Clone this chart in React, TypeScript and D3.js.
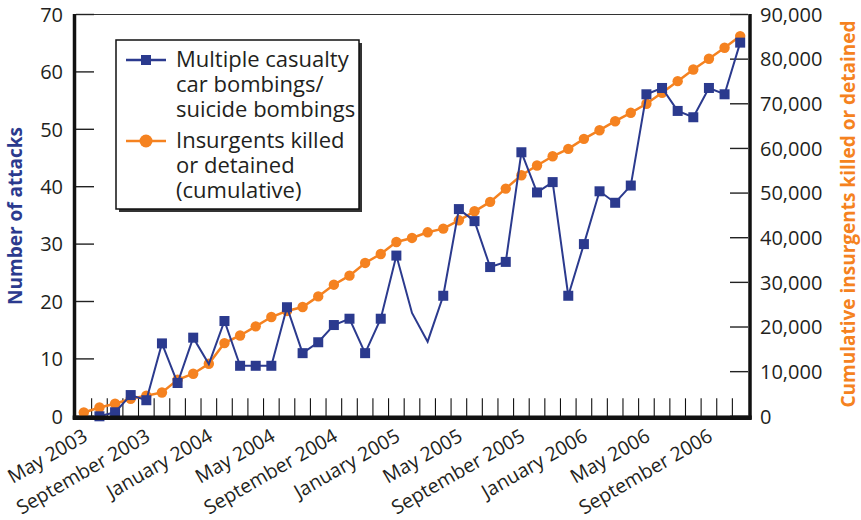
import React from "react";
import * as d3 from "d3";

// Months May 2003 .. Nov 2006 (43 months)
const monthIndex: number[] = d3.range(43);
const xTickLabels: string[] = [
  "May 2003", "September 2003", "January 2004", "May 2004", "September 2004",
  "January 2005", "May 2005", "September 2005", "January 2006", "May 2006", "September 2006",
];
const xTickEvery = 4;

// Multiple casualty car bombings / suicide bombings (left axis)
const attacks: (number | null)[] = [
  null, 0, 0.7, 3.7, 2.8, 12.7, 5.8, 13.7, 9.1, 16.6, 8.8, 8.8, 8.8, 19, 11, 12.9, 15.9, 17,
  11, 17, 28, 18, 13, 21, 36.1, 34, 26, 26.9, 46, 39, 40.8, 21, 30, 39.2, 37.2, 40.2,
  56.1, 57.2, 53.2, 52.1, 57.2, 56.1, 65.1,
];
// Months whose attack value is drawn without a marker in the original
const attacksNoMarker: number[] = [8, 21, 22];

// Insurgents killed or detained (cumulative, right axis)
const insurgents: number[] = [
  850, 1970, 2800, 3920, 4600, 5340, 8180, 9530, 11770, 16400, 18100, 20150, 22240, 23600,
  24480, 26860, 29480, 31500, 34350, 36360, 39050, 39950, 41210, 42040, 43900, 45920, 48030,
  51000, 54000, 56170, 58250, 59900, 62150, 64080, 66100, 67980, 70000, 72470, 75070, 77690,
  80090, 82560, 85160,
];

const leftTicks: number[] = [0, 10, 20, 30, 40, 50, 60, 70];
const rightTicks: number[] = [0, 10000, 20000, 30000, 40000, 50000, 60000, 70000, 80000, 90000];

const legendBlue: string[] = ["Multiple casualty", "car bombings/", "suicide bombings"];
const legendOrange: string[] = ["Insurgents killed", "or detained", "(cumulative)"];

const BLUE = "#2b3a8e";
const ORANGE = "#f58220";
const FONT = "'Open Sans', 'Noto Sans', sans-serif";

export default function App() {
  const W = 861, H = 520;
  const L = 76, R = 748, T = 14.5, B = 416.3;
  const x = d3.scaleBand<number>().domain(monthIndex).range([L, R]).padding(0);
  const cx = (i: number) => (x(i) as number) + x.bandwidth() / 2;
  const yL = d3.scaleLinear().domain([0, 70]).range([B, T]);
  const yR = d3.scaleLinear().domain([0, 90000]).range([B, T]);

  const blueLine = d3.line<number | null>()
    .defined((d) => d !== null)
    .x((_, i) => cx(i))
    .y((d) => yL(d as number));
  const orangeLine = d3.line<number>().x((_, i) => cx(i)).y((d) => yR(d));
  const fmt = d3.format(",");

  return (
    <svg width={W} height={H} style={{ position: "absolute", left: 0, top: 0, background: "#fff" }} fontFamily={FONT}>
      <rect x={0} y={0} width={W} height={H} fill="#fff" />
      {/* top border */}
      <line x1={L} x2={R} y1={T} y2={T} stroke="#333" strokeWidth={1.2} />
      {/* x ticks */}
      {monthIndex.slice(1).map((i) => (
        <line key={"xt" + i} x1={x(i)} x2={x(i)} y1={B - 18} y2={B} stroke="#111" strokeWidth={1.1} />
      ))}
      {/* left ticks */}
      {leftTicks.map((t) => (
        <line key={"lt" + t} x1={L} x2={L + 18} y1={yL(t)} y2={yL(t)} stroke="#222" strokeWidth={1.4} />
      ))}
      {rightTicks.map((t) => (
        <line key={"rt" + t} x1={R - 18} x2={R} y1={yR(t)} y2={yR(t)} stroke="#222" strokeWidth={1.4} />
      ))}

      {/* orange series */}
      <path d={orangeLine(insurgents) || ""} fill="none" stroke={ORANGE} strokeWidth={2.5} />
      {insurgents.map((d, i) => (
        <circle key={"o" + i} cx={cx(i)} cy={yR(d)} r={5.2} fill={ORANGE} />
      ))}
      {/* blue series */}
      <path d={blueLine(attacks) || ""} fill="none" stroke={BLUE} strokeWidth={2} />
      {attacks.map((d, i) =>
        d === null || attacksNoMarker.includes(i) ? null : (
          <rect key={"b" + i} x={cx(i) - 5} y={yL(d) - 5} width={10} height={10} fill={BLUE} />
        )
      )}

      {/* axes frame */}
      <line x1={74.5} x2={74.5} y1={T - 0.6} y2={B + 3} stroke="#111" strokeWidth={3.5} />
      <line x1={750} x2={750} y1={T - 0.6} y2={B + 3} stroke="#111" strokeWidth={3.5} />
      <line x1={72.7} x2={751.7} y1={B + 1.5} y2={B + 1.5} stroke="#111" strokeWidth={4.5} />

      {/* left tick labels */}
      {leftTicks.map((t) => (
        <text key={"ll" + t} x={63} y={yL(t)} dy="0.36em" textAnchor="end" fontSize={20} fill="#231f20">
          {t}
        </text>
      ))}
      {rightTicks.map((t) => (
        <text key={"rl" + t} x={760} y={yR(t)} dy="0.36em" textAnchor="start" fontSize={20} fill="#231f20">
          {fmt(t)}
        </text>
      ))}
      {/* x labels */}
      {xTickLabels.map((lab, k) => {
        const i = k * xTickEvery;
        const px = cx(i) + 5;
        const py = 440;
        return (
          <text key={"xl" + k} transform={`translate(${px},${py}) rotate(-30)`} textAnchor="end" fontSize={19.5} fill="#231f20">
            {lab}
          </text>
        );
      })}

      {/* axis titles */}
      <text transform={`translate(22,216) rotate(-90)`} textAnchor="middle" fontSize={19} fontWeight="bold" fill={BLUE}>
        Number of attacks
      </text>
      <text transform={`translate(855,214) rotate(-90)`} textAnchor="middle" fontSize={19} fontWeight="bold" fill={ORANGE}>
        Cumulative insurgents killed or detained
      </text>

      {/* legend */}
      <rect x={119} y={43} width={243} height={169} fill="#333" />
      <rect x={116} y={40} width={243} height={169} fill="#fff" stroke="#111" strokeWidth={1.5} />
      <line x1={126} x2={166} y1={60} y2={60} stroke={BLUE} strokeWidth={2.5} />
      <rect x={141} y={55} width={10} height={10} fill={BLUE} />
      {legendBlue.map((s, k) => (
        <text key={"lb" + k} x={176} y={67 + k * 25} fontSize={22} fill="#231f20">{s}</text>
      ))}
      <line x1={126} x2={166} y1={141} y2={141} stroke={ORANGE} strokeWidth={2.5} />
      <circle cx={146} cy={141} r={6.5} fill={ORANGE} />
      {legendOrange.map((s, k) => (
        <text key={"lo" + k} x={176} y={148 + k * 25} fontSize={22} fill="#231f20">{s}</text>
      ))}
    </svg>
  );
}
